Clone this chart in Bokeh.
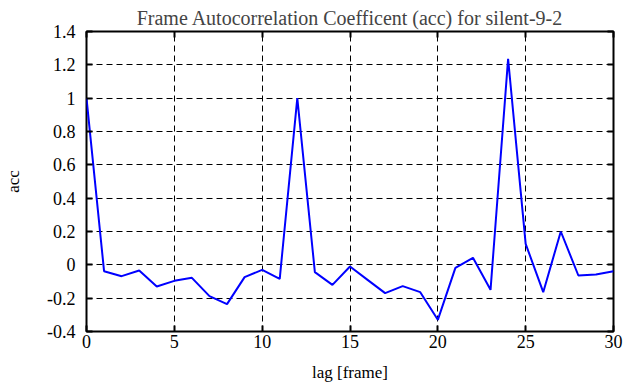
from bokeh.plotting import figure
from bokeh.models import Range1d, FixedTicker, LinearAxis
from bokeh.embed import file_html
from bokeh.resources import INLINE

lag = list(range(0, 31))
acc = [1.0, -0.038, -0.068, -0.034, -0.13, -0.096, -0.078, -0.188, -0.236, -0.074,
       -0.03, -0.084, 1.0, -0.044, -0.12, -0.01, -0.09, -0.17, -0.128, -0.164,
       -0.33, -0.018, 0.042, -0.15, 1.236, 0.126, -0.164, 0.2, -0.064, -0.058, -0.038]

x_ticks = [0, 5, 10, 15, 20, 25, 30]
y_ticks = [-0.4, -0.2, 0, 0.2, 0.4, 0.6, 0.8, 1, 1.2, 1.4]
y_tick_labels = ["-0.4", "-0.2", "0", "0.2", "0.4", "0.6", "0.8", "1", "1.2", "1.4"]
title_text = "Frame Autocorrelation Coefficent (acc) for silent-9-2"

FONT = "Liberation Serif"

p = figure(width=625, height=387, output_backend="svg", toolbar_location=None,
           x_range=Range1d(0, 30), y_range=Range1d(-0.4, 1.4),
           min_border_left=86, min_border_right=12, min_border_top=31, min_border_bottom=56,
           x_axis_label="lag [frame]", y_axis_label="acc")

p.title.text = title_text
p.title.align = "center"
p.title.text_font = FONT
p.title.text_font_size = "20px"
p.title.text_font_style = "normal"
p.title.standoff = 5

p.line(lag, acc, line_color="#0000ff", line_width=2)

p.outline_line_color = "black"
p.outline_line_width = 2
p.outline_line_alpha = 1
p.background_fill_color = "white"
p.border_fill_color = "white"

for g in (p.xgrid[0], p.ygrid[0]):
    g.grid_line_color = "black"
    g.grid_line_dash = "6 4"
    g.grid_line_width = 1
    g.grid_line_alpha = 1
p.xgrid[0].ticker = FixedTicker(ticks=x_ticks)
p.ygrid[0].ticker = FixedTicker(ticks=y_ticks)

xa = p.xaxis[0]
ya = p.yaxis[0]
xa.ticker = FixedTicker(ticks=x_ticks)
ya.ticker = FixedTicker(ticks=y_ticks)
ya.major_label_overrides = {t: l for t, l in zip(y_ticks, y_tick_labels)}

for ax in (xa, ya):
    ax.axis_line_color = None
    ax.major_tick_in = 6
    ax.major_tick_out = 0
    ax.major_tick_line_width = 2
    ax.minor_tick_line_color = None
    ax.major_label_text_font = FONT
    ax.major_label_text_font_size = "18px"
    ax.major_label_text_color = "black"
    ax.axis_label_text_font = FONT
    ax.axis_label_text_font_size = "17px"
    ax.axis_label_text_font_style = "normal"
    ax.axis_label_text_color = "black"

xa.major_label_standoff = 3
xa.axis_label_standoff = 12
ya.major_label_standoff = 11
ya.axis_label_standoff = 21

top = LinearAxis(ticker=FixedTicker(ticks=x_ticks), axis_line_color=None,
                 major_tick_in=6, major_tick_out=0, major_tick_line_width=2,
                 minor_tick_line_color=None, major_label_text_font_size="1px",
                 major_label_text_color=None, major_label_standoff=0)
right = LinearAxis(ticker=FixedTicker(ticks=y_ticks), axis_line_color=None,
                   major_tick_in=6, major_tick_out=0, major_tick_line_width=2,
                   minor_tick_line_color=None, major_label_text_font_size="1px",
                   major_label_text_color=None, major_label_standoff=0)
p.add_layout(top, "above")
p.add_layout(right, "right")

open("out.html", "w").write(file_html(p, INLINE))
